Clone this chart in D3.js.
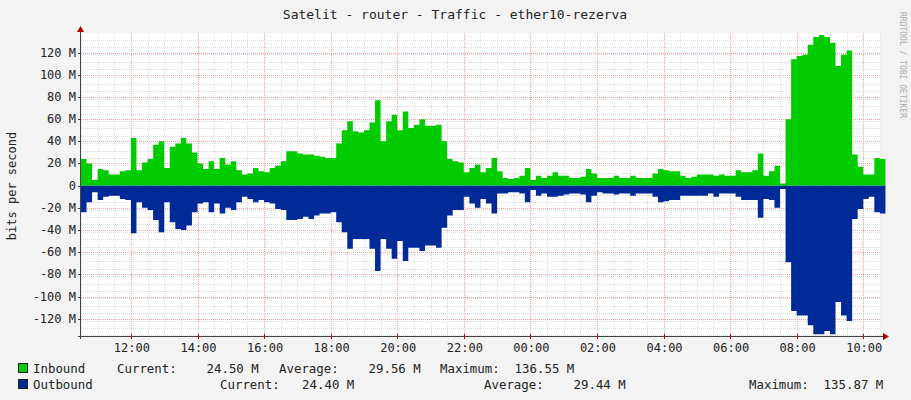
<!DOCTYPE html>
<html><head><meta charset="utf-8">
<script src="https://cdn.jsdelivr.net/npm/d3@7"></script>
<style>body{margin:0;background:#f3f3f3}svg{display:block}text{font-family:"DejaVu Sans Mono",monospace}</style>
</head><body><svg id="c" width="911" height="400"></svg>
<script>
const inbound=[24,20,5,15,14,10,10,13,14,43,14,21,24,37,40,16,35,38,43,38,30,20,15,22,15,25,19,22,14,10,11,16,13,12,16,18,22,31,31,29,28,28,27,26,25,25,38,50,58,49,48,
50,57,77,40,58,64,50,67,52,55,60,54,54,55,40,24,22,21,12,16,19,12,16,25,13,7,6,7,9,16,5,9,7,9,12,9,9,7,7,8,15,11,7,
7,7,9,7,7,9,7,7,7,11,15,14,13,13,9,7,8,10,10,10,9,10,9,9,14,12,12,14,29,9,13,18,2,60,114,117,118,127,134,136,134,129,108,118,122,28,17,10,10,25,24];
const outbound=[24,15,6,13,10,9,9,12,13,43,15,20,22,31,42,15,33,39,40,36,24,16,15,24,16,25,20,22,15,10,12,15,13,15,16,21,22,31,31,30,28,30,27,25,25,24,33,42,57,48,48,
48,57,77,48,57,66,50,68,56,56,59,54,54,56,38,27,22,22,10,16,20,12,16,25,7,7,6,6,7,15,4,9,7,10,10,9,8,7,7,8,15,9,6,
7,7,8,7,7,9,7,7,7,10,15,14,13,13,9,9,9,9,9,7,10,7,7,7,10,13,13,13,29,12,13,20,3,69,113,117,117,126,134,134,131,134,105,117,122,30,21,12,10,24,25];
const yTicks=[120,100,80,60,40,20,0,-20,-40,-60,-80,-100,-120];
const xTickLabels=["12:00","14:00","16:00","18:00","20:00","22:00","00:00","02:00","04:00","06:00","08:00","10:00"];
const legendIn=["Inbound","Current:    24.50 M","Average:    29.56 M","Maximum:  136.55 M"];
const legendOut=["Outbound","Current:   24.40 M","Average:    29.44 M","Maximum:  135.87 M"];

const svg=d3.select("#c");
const L=81,R=881,T=33,B=336;
const t0=new Date(2020,0,1,10,30);
const step=10*60*1000;
const t1=new Date(t0.getTime()+144*step+2*60*1000);
const x=d3.scaleTime().domain([t0,t1]).range([L,R]);
const y=d3.scaleLinear().domain([-135.6,137.7]).range([B,T]);
svg.append("rect").attr("x",L).attr("y",T).attr("width",R-L).attr("height",B-T).attr("fill","#fff");
const g=svg.append("g");
d3.range(-135,138,20/3).forEach(v=>{ if(Math.abs(v%20)>0.01 && Math.abs(Math.abs(v%20)-20)>0.01) g.append("line").attr("x1",L).attr("x2",R).attr("y1",Math.round(y(v))+.5).attr("y2",Math.round(y(v))+.5).attr("stroke","#ddd").attr("stroke-dasharray","1,1");});
const minorT=d3.timeMinute.every(30).range(t0,t1);
minorT.forEach(d=>{g.append("line").attr("x1",Math.round(x(d))+.5).attr("x2",Math.round(x(d))+.5).attr("y1",T).attr("y2",B).attr("stroke","#ddd").attr("stroke-dasharray","1,1");});
yTicks.forEach(v=>{g.append("line").attr("x1",L).attr("x2",R).attr("y1",Math.round(y(v))+.5).attr("y2",Math.round(y(v))+.5).attr("stroke","#f2a0a0").attr("stroke-dasharray","1,1");});
const majT=d3.timeHour.every(2).range(t0,t1);
majT.forEach(d=>{g.append("line").attr("x1",Math.round(x(d))+.5).attr("x2",Math.round(x(d))+.5).attr("y1",T).attr("y2",B).attr("stroke","#f2a0a0").attr("stroke-dasharray","1,1");});
const tt=i=>new Date(t0.getTime()+i*step);
const ext=a=>a.concat([a[a.length-1]]);
const aIn=d3.area().curve(d3.curveStepAfter).x((d,i)=>x(tt(i))).y0(y(0)).y1(d=>y(d));
const aOut=d3.area().curve(d3.curveStepAfter).x((d,i)=>x(tt(i))).y0(y(0)).y1(d=>y(-d));
svg.append("path").datum(ext(inbound)).attr("d",aIn).attr("fill","#00cc00");
svg.append("path").datum(ext(outbound)).attr("d",aOut).attr("fill","#002a97");
svg.append("line").attr("x1",L-.5).attr("x2",L-.5).attr("y1",T-5).attr("y2",B+3).attr("stroke","#444");
svg.append("line").attr("x1",L-3).attr("x2",R+4).attr("y1",B+.5).attr("y2",B+.5).attr("stroke","#444");
svg.append("path").attr("d",`M${R+2},${B-3}L${R+8},${B+.5}L${R+2},${B+4}Z`).attr("fill","#a00");
svg.append("path").attr("d",`M${L-4},${T-1}L${L-.5},${T-7}L${L+3},${T-1}Z`).attr("fill","#a00");
yTicks.forEach(v=>{
 svg.append("line").attr("x1",L-3).attr("x2",L).attr("y1",Math.round(y(v))+.5).attr("y2",Math.round(y(v))+.5).attr("stroke","#444");
 svg.append("text").attr("x",L-5).attr("y",y(v)+4).attr("text-anchor","end").attr("font-size",12).attr("fill","#222").text(v===0?"0":v+" M");
});
majT.forEach((d,i)=>{
 svg.append("line").attr("x1",Math.round(x(d))+.5).attr("x2",Math.round(x(d))+.5).attr("y1",B-2).attr("y2",B+3).attr("stroke","#c00");
 svg.append("text").attr("x",x(d)+1).attr("y",352).attr("text-anchor","middle").attr("font-size",12).attr("fill","#222").text(xTickLabels[i]);
});
svg.append("text").attr("x",455).attr("y",19).attr("text-anchor","middle").attr("font-size",13).attr("fill","#222").text("Satelit - router - Traffic - ether10-rezerva");
svg.append("text").attr("transform","translate(16,186) rotate(-90)").attr("text-anchor","middle").attr("font-size",12).attr("fill","#222").text("bits per second");
svg.append("text").attr("transform","translate(900,12) rotate(90)").attr("text-anchor","start").attr("font-size",8).attr("fill","#aaa").text("RRDTOOL / TOBI OETIKER");
function legendRow(yy,col,items,xs){
 svg.append("rect").attr("x",18.5).attr("y",yy-9.5).attr("width",9).attr("height",9).attr("fill",col).attr("stroke","#222");
 items.forEach((s,i)=>svg.append("text").attr("x",xs[i]).attr("y",yy).attr("font-size",12.4).attr("fill","#222").attr("xml:space","preserve").style("white-space","pre").text(s));
}
legendRow(373,"#00cc00",legendIn,[33,117,279,440]);
legendRow(389,"#002a97",legendOut,[33,220,484,749]);
</script></body></html>
